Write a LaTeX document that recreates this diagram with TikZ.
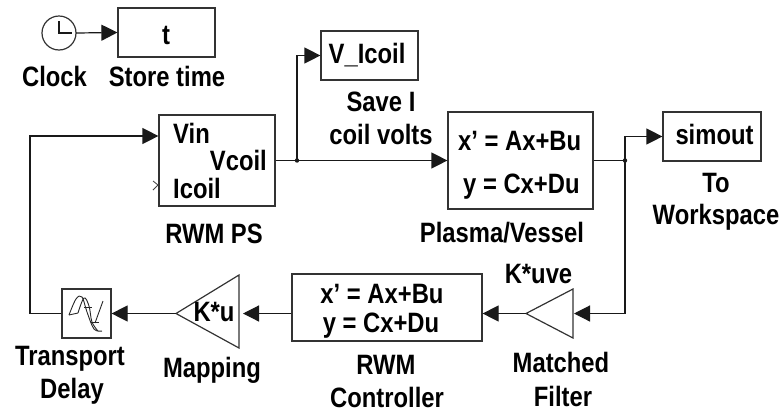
\documentclass[tikz,border=0pt]{standalone}
\usepackage{fontspec}
\setmainfont{Liberation Sans Bold}[FakeStretch=0.85]
\usetikzlibrary{arrows.meta}
\tikzset{
 x=1pt,y=-1pt,
 every node/.style={font=\fontsize{28}{30}\selectfont,inner sep=0pt,text=black},
 block/.style={draw=black!80,line width=1.2pt},
 conn/.style={draw=black!90,line width=1.2pt,-{Triangle[length=16pt,width=16pt]}},
 wire/.style={draw=black!90,line width=1.2pt},
 lab/.style={anchor=base},
 labl/.style={anchor=base west},
 labr/.style={anchor=base east},
 icon/.style={draw=black!85,line width=.9pt},
}
\begin{document}
\begin{tikzpicture}
\useasboundingbox (0,0) rectangle (781,413);
% blocks
\draw[block] (59,33) circle (17);
\coordinate (clk) at (76,33);
\draw[wire] (59,21) -- (59,33) -- (72,33);
\node[block,minimum width=97pt,minimum height=49pt] (t) at (166.5,32.5) {};
\node[block,minimum width=116pt,minimum height=91pt] (ps) at (217,160.5) {};
\node[block,minimum width=97pt,minimum height=49pt] (vi) at (369.5,55.5) {};
\node[block,minimum width=145pt,minimum height=97pt] (pv) at (520.5,160.5) {};
\node[block,minimum width=98pt,minimum height=49pt] (sim) at (712,136.5) {};
\node[block,minimum width=190pt,minimum height=67pt] (ctl) at (387,307.5) {};
\node[block,minimum width=49pt,minimum height=49pt] (td) at (86.5,313.5) {};
\coordinate (mapA) at (176,313.5); \coordinate (mapB) at (239,275); \coordinate (mapC) at (239,348);
\draw[block,line join=miter] (mapA) -- (mapB) -- (mapC) -- cycle;
\coordinate (mfA) at (526,313.5); \coordinate (mfB) at (573,289); \coordinate (mfC) at (573,338);
\draw[block] (mfA) -- (mfB) -- (mfC) -- cycle;
% delay icon
\draw[icon] plot[smooth,tension=.6] coordinates {(69,315) (76,299) (82,297) (87,312) (94,329) (102,331)};
\draw[icon] (69,315) -- (78,313);
\draw[icon] plot[smooth,tension=.6] coordinates {(78,313) (84,298) (89,306) (92,322) (98,331)};
\draw[icon] (84,307) -- (92,307);
\draw[icon] (95,323) -- (103,301);
\draw[icon] (91,322) -- (99,322);
% block text
\node[lab] at (166,44) {t};
\node[labl] at (173,143) {Vin};
\node[labr] at (267,170) {Vcoil};
\node[labl] at (173,198) {Icoil};
\node[lab] at (367,63) {V\_Icoil};
\node[labl] at (458,150) {x’ = Ax+Bu};
\node[labl] at (463,193) {y = Cx+Du};
\node[lab] at (714.5,144) {simout};
\node[lab] at (382,303) {x’ = Ax+Bu};
\node[lab] at (381,332) {y = Cx+Du};
\node[lab] at (214,321) {K*u};
\node[lab] at (538.5,283) {K*uve};
% labels
\node[lab] at (54.5,86) {Clock};
\node[lab] at (167,86) {Store time};
\node[lab] at (381,111) {Save I};
\node[lab] at (381,144) {coil volts};
\node[lab] at (214,243) {RWM PS};
\node[lab] at (502,242) {Plasma/Vessel};
\node[lab] at (716,192) {To};
\node[lab] at (716,224) {Workspace};
\node[lab] at (70,365) {Transport};
\node[lab] at (72,398) {Delay};
\node[lab] at (212,377) {Mapping};
\node[lab] at (386,374) {RWM};
\node[lab] at (387,407) {Controller};
\node[lab] at (561,372) {Matched};
\node[lab] at (563,406) {Filter};
% connectors
\draw[conn] (clk) -- (t.west);
\coordinate (j1) at (297,160.5);
\coordinate (j2) at (625,160.5);
\coordinate (bl) at (30,136);
\coordinate (tl) at (30,313.5);
\draw[wire] (ps.east) -- (j1);
\draw[conn] (j1) -- (297,55.5) -- (vi.west);
\draw[conn] (j1) -- (pv.west);
\draw[wire] (pv.east) -- (j2);
\draw[conn] (j2) -- (625,136.5) -- (sim.west);
\draw[conn] (j2) -- (625,313.5) -- (574,313.5);
\draw[conn] (mfA) -- (ctl.east |- mfA);
\fill[black!90] (j1) circle (2.2); \fill[black!90] (j2) circle (2.2);
\draw[conn] (ctl.west |- mapA) -- (243,313.5);
\draw[conn] (mapA) -- (td.east);
\draw[conn] (td.west) -- (tl) -- (bl) -- (ps.west |- bl);
\draw[black!75,line width=.8pt] (153,181) -- (158,185) -- (153,190);
\end{tikzpicture}
\end{document}
